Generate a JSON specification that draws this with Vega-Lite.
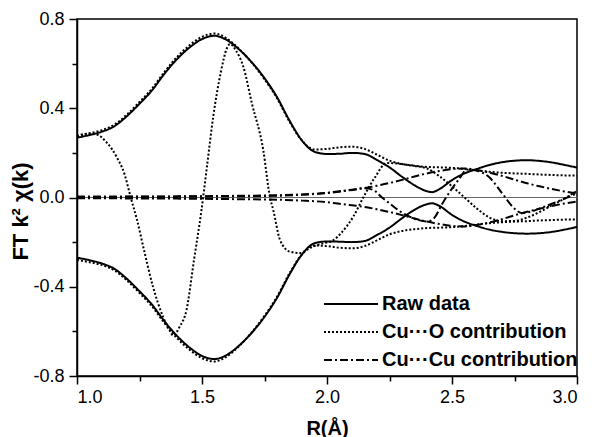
{
"$schema": "https://vega.github.io/schema/vega-lite/v6.json",
"width": 500, "height": 357,
"autosize": {"type": "none"},
"padding": {"left": 77, "top": 19, "right": 15, "bottom": 61},
"background": "white",
"config": {"view": {"stroke": "black", "strokeWidth": 1.5}, "font": "Liberation Sans"},
"datasets": {"curves": [
{"c":"ru","g":"Raw data","r":1.00,"v":0.268},{"c":"ru","g":"Raw data","r":1.05,"v":0.280},{"c":"ru","g":"Raw data","r":1.10,"v":0.295},{"c":"ru","g":"Raw data","r":1.15,"v":0.320},{"c":"ru","g":"Raw data","r":1.20,"v":0.365},{"c":"ru","g":"Raw data","r":1.25,"v":0.420},{"c":"ru","g":"Raw data","r":1.30,"v":0.480},{"c":"ru","g":"Raw data","r":1.35,"v":0.555},{"c":"ru","g":"Raw data","r":1.40,"v":0.620},{"c":"ru","g":"Raw data","r":1.45,"v":0.672},{"c":"ru","g":"Raw data","r":1.50,"v":0.710},{"c":"ru","g":"Raw data","r":1.55,"v":0.725},{"c":"ru","g":"Raw data","r":1.60,"v":0.705},{"c":"ru","g":"Raw data","r":1.65,"v":0.662},{"c":"ru","g":"Raw data","r":1.70,"v":0.605},{"c":"ru","g":"Raw data","r":1.75,"v":0.535},{"c":"ru","g":"Raw data","r":1.80,"v":0.450},{"c":"ru","g":"Raw data","r":1.85,"v":0.345},{"c":"ru","g":"Raw data","r":1.90,"v":0.255},{"c":"ru","g":"Raw data","r":1.95,"v":0.205},{"c":"ru","g":"Raw data","r":2.00,"v":0.195},{"c":"ru","g":"Raw data","r":2.05,"v":0.196},{"c":"ru","g":"Raw data","r":2.10,"v":0.200},{"c":"ru","g":"Raw data","r":2.15,"v":0.195},{"c":"ru","g":"Raw data","r":2.20,"v":0.168},{"c":"ru","g":"Raw data","r":2.25,"v":0.135},{"c":"ru","g":"Raw data","r":2.30,"v":0.093},{"c":"ru","g":"Raw data","r":2.35,"v":0.055},{"c":"ru","g":"Raw data","r":2.40,"v":0.028},{"c":"ru","g":"Raw data","r":2.42,"v":0.024},{"c":"ru","g":"Raw data","r":2.45,"v":0.038},{"c":"ru","g":"Raw data","r":2.50,"v":0.078},{"c":"ru","g":"Raw data","r":2.55,"v":0.108},{"c":"ru","g":"Raw data","r":2.60,"v":0.128},{"c":"ru","g":"Raw data","r":2.65,"v":0.146},{"c":"ru","g":"Raw data","r":2.70,"v":0.158},{"c":"ru","g":"Raw data","r":2.75,"v":0.165},{"c":"ru","g":"Raw data","r":2.80,"v":0.167},{"c":"ru","g":"Raw data","r":2.85,"v":0.164},{"c":"ru","g":"Raw data","r":2.90,"v":0.157},{"c":"ru","g":"Raw data","r":2.95,"v":0.146},{"c":"ru","g":"Raw data","r":3.00,"v":0.134},
{"c":"rl","g":"Raw data","r":1.00,"v":-0.270},{"c":"rl","g":"Raw data","r":1.05,"v":-0.281},{"c":"rl","g":"Raw data","r":1.10,"v":-0.296},{"c":"rl","g":"Raw data","r":1.15,"v":-0.320},{"c":"rl","g":"Raw data","r":1.20,"v":-0.365},{"c":"rl","g":"Raw data","r":1.25,"v":-0.420},{"c":"rl","g":"Raw data","r":1.30,"v":-0.480},{"c":"rl","g":"Raw data","r":1.35,"v":-0.555},{"c":"rl","g":"Raw data","r":1.40,"v":-0.620},{"c":"rl","g":"Raw data","r":1.45,"v":-0.672},{"c":"rl","g":"Raw data","r":1.50,"v":-0.710},{"c":"rl","g":"Raw data","r":1.55,"v":-0.724},{"c":"rl","g":"Raw data","r":1.60,"v":-0.705},{"c":"rl","g":"Raw data","r":1.65,"v":-0.662},{"c":"rl","g":"Raw data","r":1.70,"v":-0.605},{"c":"rl","g":"Raw data","r":1.75,"v":-0.535},{"c":"rl","g":"Raw data","r":1.80,"v":-0.450},{"c":"rl","g":"Raw data","r":1.85,"v":-0.345},{"c":"rl","g":"Raw data","r":1.90,"v":-0.255},{"c":"rl","g":"Raw data","r":1.95,"v":-0.205},{"c":"rl","g":"Raw data","r":2.00,"v":-0.197},{"c":"rl","g":"Raw data","r":2.05,"v":-0.198},{"c":"rl","g":"Raw data","r":2.10,"v":-0.200},{"c":"rl","g":"Raw data","r":2.15,"v":-0.195},{"c":"rl","g":"Raw data","r":2.20,"v":-0.168},{"c":"rl","g":"Raw data","r":2.25,"v":-0.135},{"c":"rl","g":"Raw data","r":2.30,"v":-0.093},{"c":"rl","g":"Raw data","r":2.35,"v":-0.055},{"c":"rl","g":"Raw data","r":2.40,"v":-0.030},{"c":"rl","g":"Raw data","r":2.42,"v":-0.026},{"c":"rl","g":"Raw data","r":2.45,"v":-0.038},{"c":"rl","g":"Raw data","r":2.50,"v":-0.078},{"c":"rl","g":"Raw data","r":2.55,"v":-0.108},{"c":"rl","g":"Raw data","r":2.60,"v":-0.128},{"c":"rl","g":"Raw data","r":2.65,"v":-0.144},{"c":"rl","g":"Raw data","r":2.70,"v":-0.154},{"c":"rl","g":"Raw data","r":2.75,"v":-0.160},{"c":"rl","g":"Raw data","r":2.80,"v":-0.162},{"c":"rl","g":"Raw data","r":2.85,"v":-0.160},{"c":"rl","g":"Raw data","r":2.90,"v":-0.154},{"c":"rl","g":"Raw data","r":2.95,"v":-0.144},{"c":"rl","g":"Raw data","r":3.00,"v":-0.132},
{"c":"ou","g":"Cu···O contribution","r":1.00,"v":0.275},{"c":"ou","g":"Cu···O contribution","r":1.05,"v":0.288},{"c":"ou","g":"Cu···O contribution","r":1.10,"v":0.302},{"c":"ou","g":"Cu···O contribution","r":1.15,"v":0.327},{"c":"ou","g":"Cu···O contribution","r":1.20,"v":0.372},{"c":"ou","g":"Cu···O contribution","r":1.25,"v":0.428},{"c":"ou","g":"Cu···O contribution","r":1.30,"v":0.488},{"c":"ou","g":"Cu···O contribution","r":1.35,"v":0.563},{"c":"ou","g":"Cu···O contribution","r":1.40,"v":0.630},{"c":"ou","g":"Cu···O contribution","r":1.45,"v":0.682},{"c":"ou","g":"Cu···O contribution","r":1.50,"v":0.720},{"c":"ou","g":"Cu···O contribution","r":1.55,"v":0.735},{"c":"ou","g":"Cu···O contribution","r":1.60,"v":0.712},{"c":"ou","g":"Cu···O contribution","r":1.65,"v":0.664},{"c":"ou","g":"Cu···O contribution","r":1.70,"v":0.603},{"c":"ou","g":"Cu···O contribution","r":1.75,"v":0.530},{"c":"ou","g":"Cu···O contribution","r":1.80,"v":0.445},{"c":"ou","g":"Cu···O contribution","r":1.85,"v":0.340},{"c":"ou","g":"Cu···O contribution","r":1.90,"v":0.255},{"c":"ou","g":"Cu···O contribution","r":1.95,"v":0.215},{"c":"ou","g":"Cu···O contribution","r":2.00,"v":0.218},{"c":"ou","g":"Cu···O contribution","r":2.05,"v":0.225},{"c":"ou","g":"Cu···O contribution","r":2.10,"v":0.228},{"c":"ou","g":"Cu···O contribution","r":2.15,"v":0.218},{"c":"ou","g":"Cu···O contribution","r":2.20,"v":0.192},{"c":"ou","g":"Cu···O contribution","r":2.25,"v":0.165},{"c":"ou","g":"Cu···O contribution","r":2.30,"v":0.150},{"c":"ou","g":"Cu···O contribution","r":2.35,"v":0.142},{"c":"ou","g":"Cu···O contribution","r":2.40,"v":0.137},{"c":"ou","g":"Cu···O contribution","r":2.45,"v":0.135},{"c":"ou","g":"Cu···O contribution","r":2.50,"v":0.133},{"c":"ou","g":"Cu···O contribution","r":2.55,"v":0.128},{"c":"ou","g":"Cu···O contribution","r":2.60,"v":0.121},{"c":"ou","g":"Cu···O contribution","r":2.65,"v":0.115},{"c":"ou","g":"Cu···O contribution","r":2.70,"v":0.111},{"c":"ou","g":"Cu···O contribution","r":2.75,"v":0.108},{"c":"ou","g":"Cu···O contribution","r":2.80,"v":0.106},{"c":"ou","g":"Cu···O contribution","r":2.85,"v":0.103},{"c":"ou","g":"Cu···O contribution","r":2.90,"v":0.101},{"c":"ou","g":"Cu···O contribution","r":2.95,"v":0.099},{"c":"ou","g":"Cu···O contribution","r":3.00,"v":0.098},
{"c":"ol","g":"Cu···O contribution","r":1.00,"v":-0.280},{"c":"ol","g":"Cu···O contribution","r":1.05,"v":-0.290},{"c":"ol","g":"Cu···O contribution","r":1.10,"v":-0.303},{"c":"ol","g":"Cu···O contribution","r":1.15,"v":-0.327},{"c":"ol","g":"Cu···O contribution","r":1.20,"v":-0.372},{"c":"ol","g":"Cu···O contribution","r":1.25,"v":-0.428},{"c":"ol","g":"Cu···O contribution","r":1.30,"v":-0.488},{"c":"ol","g":"Cu···O contribution","r":1.35,"v":-0.563},{"c":"ol","g":"Cu···O contribution","r":1.40,"v":-0.630},{"c":"ol","g":"Cu···O contribution","r":1.45,"v":-0.682},{"c":"ol","g":"Cu···O contribution","r":1.50,"v":-0.720},{"c":"ol","g":"Cu···O contribution","r":1.55,"v":-0.735},{"c":"ol","g":"Cu···O contribution","r":1.60,"v":-0.712},{"c":"ol","g":"Cu···O contribution","r":1.65,"v":-0.664},{"c":"ol","g":"Cu···O contribution","r":1.70,"v":-0.603},{"c":"ol","g":"Cu···O contribution","r":1.75,"v":-0.530},{"c":"ol","g":"Cu···O contribution","r":1.80,"v":-0.445},{"c":"ol","g":"Cu···O contribution","r":1.85,"v":-0.340},{"c":"ol","g":"Cu···O contribution","r":1.90,"v":-0.255},{"c":"ol","g":"Cu···O contribution","r":1.95,"v":-0.215},{"c":"ol","g":"Cu···O contribution","r":2.00,"v":-0.218},{"c":"ol","g":"Cu···O contribution","r":2.05,"v":-0.225},{"c":"ol","g":"Cu···O contribution","r":2.10,"v":-0.228},{"c":"ol","g":"Cu···O contribution","r":2.15,"v":-0.218},{"c":"ol","g":"Cu···O contribution","r":2.20,"v":-0.192},{"c":"ol","g":"Cu···O contribution","r":2.25,"v":-0.165},{"c":"ol","g":"Cu···O contribution","r":2.30,"v":-0.150},{"c":"ol","g":"Cu···O contribution","r":2.35,"v":-0.142},{"c":"ol","g":"Cu···O contribution","r":2.40,"v":-0.137},{"c":"ol","g":"Cu···O contribution","r":2.45,"v":-0.135},{"c":"ol","g":"Cu···O contribution","r":2.50,"v":-0.133},{"c":"ol","g":"Cu···O contribution","r":2.55,"v":-0.128},{"c":"ol","g":"Cu···O contribution","r":2.60,"v":-0.121},{"c":"ol","g":"Cu···O contribution","r":2.65,"v":-0.115},{"c":"ol","g":"Cu···O contribution","r":2.70,"v":-0.111},{"c":"ol","g":"Cu···O contribution","r":2.75,"v":-0.108},{"c":"ol","g":"Cu···O contribution","r":2.80,"v":-0.106},{"c":"ol","g":"Cu···O contribution","r":2.85,"v":-0.103},{"c":"ol","g":"Cu···O contribution","r":2.90,"v":-0.101},{"c":"ol","g":"Cu···O contribution","r":2.95,"v":-0.099},{"c":"ol","g":"Cu···O contribution","r":3.00,"v":-0.098},
{"c":"oi","g":"Cu···O contribution","r":1.00,"v":0.275},{"c":"oi","g":"Cu···O contribution","r":1.04,"v":0.286},{"c":"oi","g":"Cu···O contribution","r":1.078,"v":0.282},{"c":"oi","g":"Cu···O contribution","r":1.12,"v":0.245},{"c":"oi","g":"Cu···O contribution","r":1.158,"v":0.183},{"c":"oi","g":"Cu···O contribution","r":1.19,"v":0.105},{"c":"oi","g":"Cu···O contribution","r":1.215,"v":0.0},{"c":"oi","g":"Cu···O contribution","r":1.24,"v":-0.10},{"c":"oi","g":"Cu···O contribution","r":1.27,"v":-0.245},{"c":"oi","g":"Cu···O contribution","r":1.304,"v":-0.40},{"c":"oi","g":"Cu···O contribution","r":1.344,"v":-0.534},{"c":"oi","g":"Cu···O contribution","r":1.37,"v":-0.595},{"c":"oi","g":"Cu···O contribution","r":1.385,"v":-0.618},{"c":"oi","g":"Cu···O contribution","r":1.41,"v":-0.58},{"c":"oi","g":"Cu···O contribution","r":1.438,"v":-0.504},{"c":"oi","g":"Cu···O contribution","r":1.468,"v":-0.28},{"c":"oi","g":"Cu···O contribution","r":1.498,"v":-0.056},{"c":"oi","g":"Cu···O contribution","r":1.52,"v":0.14},{"c":"oi","g":"Cu···O contribution","r":1.545,"v":0.363},{"c":"oi","g":"Cu···O contribution","r":1.575,"v":0.56},{"c":"oi","g":"Cu···O contribution","r":1.60,"v":0.67},{"c":"oi","g":"Cu···O contribution","r":1.612,"v":0.688},{"c":"oi","g":"Cu···O contribution","r":1.635,"v":0.66},{"c":"oi","g":"Cu···O contribution","r":1.665,"v":0.587},{"c":"oi","g":"Cu···O contribution","r":1.70,"v":0.42},{"c":"oi","g":"Cu···O contribution","r":1.745,"v":0.213},{"c":"oi","g":"Cu···O contribution","r":1.772,"v":0.0},{"c":"oi","g":"Cu···O contribution","r":1.785,"v":-0.056},{"c":"oi","g":"Cu···O contribution","r":1.812,"v":-0.19},{"c":"oi","g":"Cu···O contribution","r":1.852,"v":-0.243},{"c":"oi","g":"Cu···O contribution","r":1.892,"v":-0.249},{"c":"oi","g":"Cu···O contribution","r":1.932,"v":-0.226},{"c":"oi","g":"Cu···O contribution","r":1.985,"v":-0.205},{"c":"oi","g":"Cu···O contribution","r":2.02,"v":-0.195},{"c":"oi","g":"Cu···O contribution","r":2.06,"v":-0.155},{"c":"oi","g":"Cu···O contribution","r":2.105,"v":-0.086},{"c":"oi","g":"Cu···O contribution","r":2.145,"v":0.0},{"c":"oi","g":"Cu···O contribution","r":2.19,"v":0.087},{"c":"oi","g":"Cu···O contribution","r":2.24,"v":0.155},{"c":"oi","g":"Cu···O contribution","r":2.30,"v":0.150},{"c":"oi","g":"Cu···O contribution","r":2.35,"v":0.142},{"c":"oi","g":"Cu···O contribution","r":2.40,"v":0.130},{"c":"oi","g":"Cu···O contribution","r":2.45,"v":0.095},{"c":"oi","g":"Cu···O contribution","r":2.50,"v":0.050},{"c":"oi","g":"Cu···O contribution","r":2.55,"v":0.0},{"c":"oi","g":"Cu···O contribution","r":2.60,"v":-0.05},{"c":"oi","g":"Cu···O contribution","r":2.65,"v":-0.09},{"c":"oi","g":"Cu···O contribution","r":2.70,"v":-0.106},{"c":"oi","g":"Cu···O contribution","r":2.75,"v":-0.105},{"c":"oi","g":"Cu···O contribution","r":2.80,"v":-0.09},{"c":"oi","g":"Cu···O contribution","r":2.85,"v":-0.065},{"c":"oi","g":"Cu···O contribution","r":2.90,"v":-0.035},{"c":"oi","g":"Cu···O contribution","r":2.95,"v":-0.005},{"c":"oi","g":"Cu···O contribution","r":3.00,"v":0.03},
{"c":"cu","g":"Cu···Cu contribution","r":1.00,"v":0.003},{"c":"cu","g":"Cu···Cu contribution","r":1.20,"v":0.004},{"c":"cu","g":"Cu···Cu contribution","r":1.40,"v":0.005},{"c":"cu","g":"Cu···Cu contribution","r":1.60,"v":0.007},{"c":"cu","g":"Cu···Cu contribution","r":1.80,"v":0.010},{"c":"cu","g":"Cu···Cu contribution","r":1.90,"v":0.014},{"c":"cu","g":"Cu···Cu contribution","r":2.00,"v":0.021},{"c":"cu","g":"Cu···Cu contribution","r":2.05,"v":0.028},{"c":"cu","g":"Cu···Cu contribution","r":2.10,"v":0.035},{"c":"cu","g":"Cu···Cu contribution","r":2.15,"v":0.042},{"c":"cu","g":"Cu···Cu contribution","r":2.20,"v":0.053},{"c":"cu","g":"Cu···Cu contribution","r":2.25,"v":0.065},{"c":"cu","g":"Cu···Cu contribution","r":2.30,"v":0.079},{"c":"cu","g":"Cu···Cu contribution","r":2.35,"v":0.094},{"c":"cu","g":"Cu···Cu contribution","r":2.40,"v":0.108},{"c":"cu","g":"Cu···Cu contribution","r":2.45,"v":0.119},{"c":"cu","g":"Cu···Cu contribution","r":2.50,"v":0.127},{"c":"cu","g":"Cu···Cu contribution","r":2.55,"v":0.130},{"c":"cu","g":"Cu···Cu contribution","r":2.60,"v":0.123},{"c":"cu","g":"Cu···Cu contribution","r":2.65,"v":0.112},{"c":"cu","g":"Cu···Cu contribution","r":2.70,"v":0.097},{"c":"cu","g":"Cu···Cu contribution","r":2.75,"v":0.080},{"c":"cu","g":"Cu···Cu contribution","r":2.80,"v":0.064},{"c":"cu","g":"Cu···Cu contribution","r":2.85,"v":0.050},{"c":"cu","g":"Cu···Cu contribution","r":2.90,"v":0.038},{"c":"cu","g":"Cu···Cu contribution","r":2.95,"v":0.027},{"c":"cu","g":"Cu···Cu contribution","r":3.00,"v":0.018},
{"c":"cl","g":"Cu···Cu contribution","r":1.00,"v":-0.003},{"c":"cl","g":"Cu···Cu contribution","r":1.20,"v":-0.004},{"c":"cl","g":"Cu···Cu contribution","r":1.40,"v":-0.005},{"c":"cl","g":"Cu···Cu contribution","r":1.60,"v":-0.007},{"c":"cl","g":"Cu···Cu contribution","r":1.80,"v":-0.010},{"c":"cl","g":"Cu···Cu contribution","r":1.90,"v":-0.014},{"c":"cl","g":"Cu···Cu contribution","r":2.00,"v":-0.021},{"c":"cl","g":"Cu···Cu contribution","r":2.05,"v":-0.028},{"c":"cl","g":"Cu···Cu contribution","r":2.10,"v":-0.035},{"c":"cl","g":"Cu···Cu contribution","r":2.15,"v":-0.042},{"c":"cl","g":"Cu···Cu contribution","r":2.20,"v":-0.053},{"c":"cl","g":"Cu···Cu contribution","r":2.25,"v":-0.065},{"c":"cl","g":"Cu···Cu contribution","r":2.30,"v":-0.079},{"c":"cl","g":"Cu···Cu contribution","r":2.35,"v":-0.094},{"c":"cl","g":"Cu···Cu contribution","r":2.40,"v":-0.108},{"c":"cl","g":"Cu···Cu contribution","r":2.45,"v":-0.119},{"c":"cl","g":"Cu···Cu contribution","r":2.50,"v":-0.127},{"c":"cl","g":"Cu···Cu contribution","r":2.55,"v":-0.130},{"c":"cl","g":"Cu···Cu contribution","r":2.60,"v":-0.123},{"c":"cl","g":"Cu···Cu contribution","r":2.65,"v":-0.112},{"c":"cl","g":"Cu···Cu contribution","r":2.70,"v":-0.097},{"c":"cl","g":"Cu···Cu contribution","r":2.75,"v":-0.080},{"c":"cl","g":"Cu···Cu contribution","r":2.80,"v":-0.064},{"c":"cl","g":"Cu···Cu contribution","r":2.85,"v":-0.050},{"c":"cl","g":"Cu···Cu contribution","r":2.90,"v":-0.038},{"c":"cl","g":"Cu···Cu contribution","r":2.95,"v":-0.027},{"c":"cl","g":"Cu···Cu contribution","r":3.00,"v":-0.018},
{"c":"ci","g":"Cu···Cu contribution","r":1.00,"v":0.003},{"c":"ci","g":"Cu···Cu contribution","r":1.40,"v":0.004},{"c":"ci","g":"Cu···Cu contribution","r":1.80,"v":0.008},{"c":"ci","g":"Cu···Cu contribution","r":1.90,"v":0.012},{"c":"ci","g":"Cu···Cu contribution","r":2.00,"v":0.020},{"c":"ci","g":"Cu···Cu contribution","r":2.10,"v":0.034},{"c":"ci","g":"Cu···Cu contribution","r":2.15,"v":0.042},{"c":"ci","g":"Cu···Cu contribution","r":2.185,"v":0.034},{"c":"ci","g":"Cu···Cu contribution","r":2.22,"v":0.0},{"c":"ci","g":"Cu···Cu contribution","r":2.25,"v":-0.026},{"c":"ci","g":"Cu···Cu contribution","r":2.30,"v":-0.068},{"c":"ci","g":"Cu···Cu contribution","r":2.35,"v":-0.095},{"c":"ci","g":"Cu···Cu contribution","r":2.40,"v":-0.108},{"c":"ci","g":"Cu···Cu contribution","r":2.43,"v":-0.09},{"c":"ci","g":"Cu···Cu contribution","r":2.46,"v":-0.03},{"c":"ci","g":"Cu···Cu contribution","r":2.50,"v":0.04},{"c":"ci","g":"Cu···Cu contribution","r":2.53,"v":0.085},{"c":"ci","g":"Cu···Cu contribution","r":2.56,"v":0.125},{"c":"ci","g":"Cu···Cu contribution","r":2.60,"v":0.12},{"c":"ci","g":"Cu···Cu contribution","r":2.646,"v":0.094},{"c":"ci","g":"Cu···Cu contribution","r":2.70,"v":0.02},{"c":"ci","g":"Cu···Cu contribution","r":2.75,"v":-0.05},{"c":"ci","g":"Cu···Cu contribution","r":2.78,"v":-0.07},{"c":"ci","g":"Cu···Cu contribution","r":2.82,"v":-0.062},{"c":"ci","g":"Cu···Cu contribution","r":2.86,"v":-0.045},{"c":"ci","g":"Cu···Cu contribution","r":2.90,"v":-0.028},{"c":"ci","g":"Cu···Cu contribution","r":2.95,"v":-0.005},{"c":"ci","g":"Cu···Cu contribution","r":3.00,"v":0.018}
]},
"layer": [
{"data": {"values": [{"z": 0}]},
 "mark": {"type": "rule", "color": "#666666", "strokeWidth": 1},
 "encoding": {"y": {"datum": 0, "type": "quantitative"}}},
{"data": {"name": "curves"},
 "mark": {"type": "line", "interpolate": "monotone", "strokeWidth": 2, "color": "black"},
 "encoding": {
  "x": {"field": "r", "type": "quantitative",
   "scale": {"domain": [1, 3], "nice": false, "zero": false},
   "axis": {"title": "R(Å)", "values": [1, 1.25, 1.5, 1.75, 2, 2.25, 2.5, 2.75, 3],
    "labelExpr": "round(datum.value*4) % 2 == 0 ? format(datum.value, '.1f') : ''",
    "grid": false, "domainColor": "black", "domainWidth": 1.5,
    "tickColor": "black", "tickWidth": 1.5,
    "tickSize": {"condition": {"test": "round(datum.value*4) % 2 == 0", "value": 8}, "value": 5},
    "labelFont": "Liberation Sans", "labelFontSize": 18, "labelColor": "black", "labelPadding": 4,
    "titleFont": "Liberation Sans", "titleFontSize": 20, "titleFontWeight": "bold", "titleColor": "black", "titlePadding": 12}},
  "y": {"field": "v", "type": "quantitative",
   "scale": {"domain": [-0.8, 0.8], "nice": false, "zero": false},
   "axis": {"title": "FT k² χ(k)", "values": [-0.8, -0.6, -0.4, -0.2, 0, 0.2, 0.4, 0.6, 0.8],
    "labelExpr": "abs(round(datum.value*10)) % 4 == 0 ? (datum.value < 0 ? '-' : '') + format(abs(datum.value), '.1f') : ''",
    "grid": false, "domainColor": "black", "domainWidth": 1.5,
    "tickColor": "black", "tickWidth": 1.5,
    "tickSize": {"condition": {"test": "abs(round(datum.value*10)) % 4 == 0", "value": 8}, "value": 5},
    "labelFont": "Liberation Sans", "labelFontSize": 18, "labelColor": "black", "labelPadding": 5,
    "titleFont": "Liberation Sans", "titleFontSize": 22, "titleFontWeight": "bold", "titleColor": "black", "titlePadding": 0, "titleY": 192}},
  "strokeDash": {"field": "g", "type": "nominal",
   "scale": {"domain": ["Raw data", "Cu···O contribution", "Cu···Cu contribution"], "range": [[1, 0], [2, 2], [8, 3, 2, 3]]},
   "legend": {"title": null, "orient": "none", "legendX": 263, "legendY": 274, "symbolType": "M-2.7,0H2.7", "symbolSize": 400,
    "symbolStrokeWidth": 2, "symbolStrokeColor": "black", "symbolFillColor": "transparent", "labelFont": "Liberation Sans", "labelFontSize": 20, "labelFontWeight": "bold",
    "labelColor": "black", "labelOffset": 20, "rowPadding": 7, "padding": 0, "labelLimit": 400}},
  "detail": {"field": "c", "type": "nominal"}
 }}
]
}
